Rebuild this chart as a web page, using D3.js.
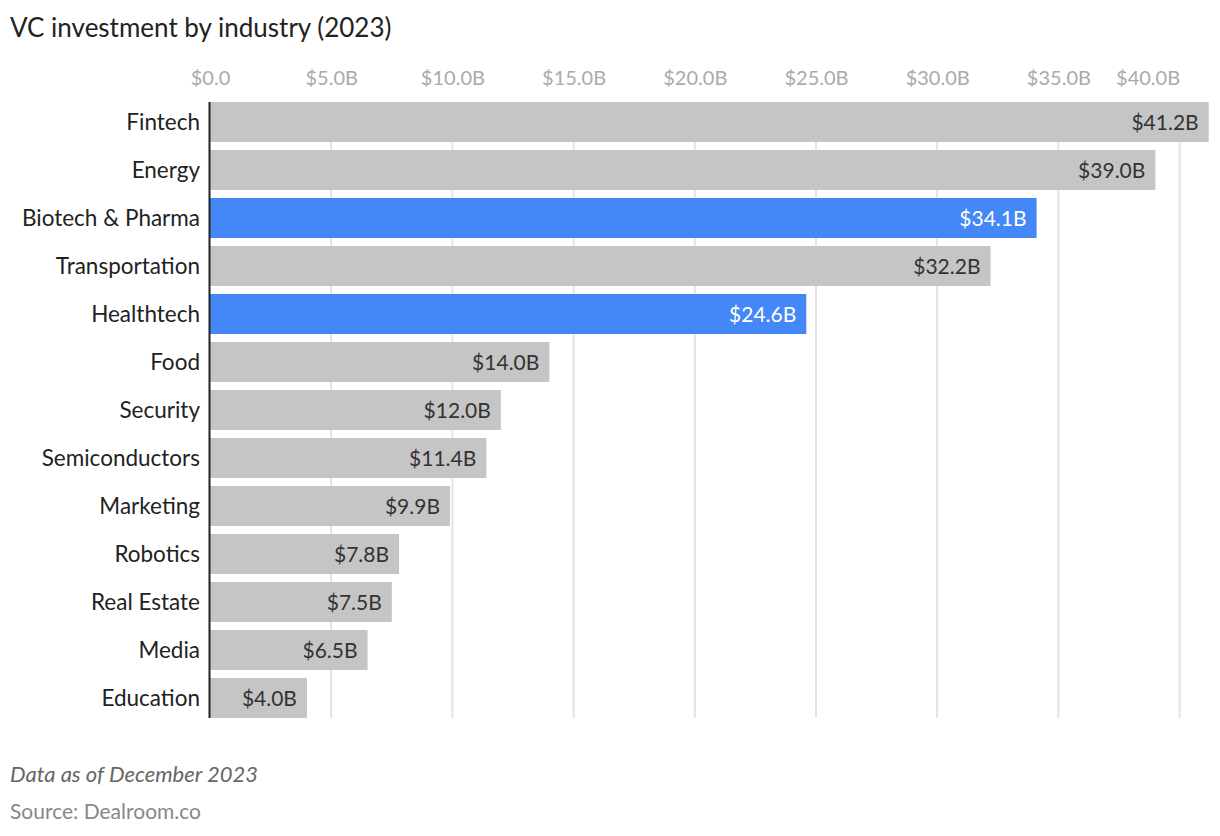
<!DOCTYPE html>
<html>
<head>
<meta charset="utf-8">
<script src="https://cdn.jsdelivr.net/npm/d3@7"></script>
<style>
  body { margin: 0; background: #fff; font-family: Lato, "Source Sans Pro", sans-serif; }
  #chart { width: 1220px; height: 836px; }
</style>
</head>
<body>
<div id="chart"></div>
<script>
// data
const industries = ["Fintech", "Energy", "Biotech & Pharma", "Transportation", "Healthtech", "Food",
  "Security", "Semiconductors", "Marketing", "Robotics", "Real Estate", "Media", "Education"];
const investment = [41.2, 39.0, 34.1, 32.2, 24.6, 14.0, 12.0, 11.4, 9.9, 7.8, 7.5, 6.5, 4.0];
const highlighted = ["Biotech & Pharma", "Healthtech"];
const tickValues = [0, 5, 10, 15, 20, 25, 30, 35, 40];

const data = industries.map((d, i) => ({name: d, value: investment[i]}));

let svg = d3.select("#chart").append("svg")
  .attr("width", 1220)
  .attr("height", 836);

// title
svg.append("text")
  .attr("x", 10).attr("y", 37)
  .attr("font-size", 26)
  .attr("fill", "#222")
  .text("VC investment by industry (2023)");

// scales
let x = d3.scaleLinear()
  .domain([0, 40])
  .range([210, 1179.6]);

let y = d3.scaleBand()
  .domain(industries)
  .range([98, 722])
  .paddingInner(1 / 6)
  .paddingOuter(1 / 12);

// gridlines
svg.append("g")
  .selectAll("line")
  .data(tickValues.filter(d => d > 0))
  .enter().append("line")
  .attr("x1", d => x(d)).attr("x2", d => x(d))
  .attr("y1", 102).attr("y2", 718)
  .attr("stroke", "#e3e3e3")
  .attr("stroke-width", 2);

// x axis labels on top
let xAxis = d3.axisTop(x)
  .tickValues(tickValues)
  .tickSize(0)
  .tickFormat(d => d === 0 ? "$0.0" : "$" + d3.format(".1f")(d) + "B");

let gx = svg.append("g")
  .attr("transform", "translate(0,78)")
  .call(xAxis);
gx.select(".domain").remove();
gx.selectAll("text")
  .attr("font-family", "Lato, sans-serif")
  .attr("font-size", 20)
  .attr("fill", "#aaaaaa")
  .attr("dy", "0.5em")
  .attr("text-anchor", d => d === 40 ? "end" : "middle");

// bars
svg.append("g")
  .selectAll("rect")
  .data(data)
  .enter().append("rect")
  .attr("x", x(0))
  .attr("y", d => y(d.name))
  .attr("width", d => x(d.value) - x(0))
  .attr("height", y.bandwidth())
  .attr("fill", d => highlighted.includes(d.name) ? "#4487f6" : "#c5c5c5");

// value labels
svg.append("g")
  .selectAll("text")
  .data(data)
  .enter().append("text")
  .attr("x", d => x(d.value) - 10)
  .attr("y", d => y(d.name) + y.bandwidth() / 2)
  .attr("dy", "0.37em")
  .attr("text-anchor", "end")
  .attr("font-size", 21)
  .attr("fill", d => highlighted.includes(d.name) ? "#ffffff" : "#333333")
  .text(d => "$" + d3.format(".1f")(d.value) + "B");

// y axis
let yAxis = d3.axisLeft(y).tickSize(0).tickPadding(10);
let gy = svg.append("g")
  .attr("transform", "translate(210,0)")
  .call(yAxis);
gy.select(".domain").remove();
gy.selectAll("text")
  .attr("font-family", "Lato, sans-serif")
  .attr("font-size", 22.5)
  .attr("fill", "#222")
  .attr("dy", "0.37em");

svg.append("line")
  .attr("x1", 209.5).attr("x2", 209.5)
  .attr("y1", 102).attr("y2", 718)
  .attr("stroke", "#222")
  .attr("stroke-width", 2);

// footnotes
svg.append("text")
  .attr("x", 10).attr("y", 782)
  .attr("font-size", 22)
  .attr("font-style", "italic")
  .attr("fill", "#666")
  .text("Data as of December 2023");

svg.append("text")
  .attr("x", 10).attr("y", 819)
  .attr("font-size", 21)
  .attr("fill", "#888")
  .text("Source: Dealroom.co");
</script>
</body>
</html>
